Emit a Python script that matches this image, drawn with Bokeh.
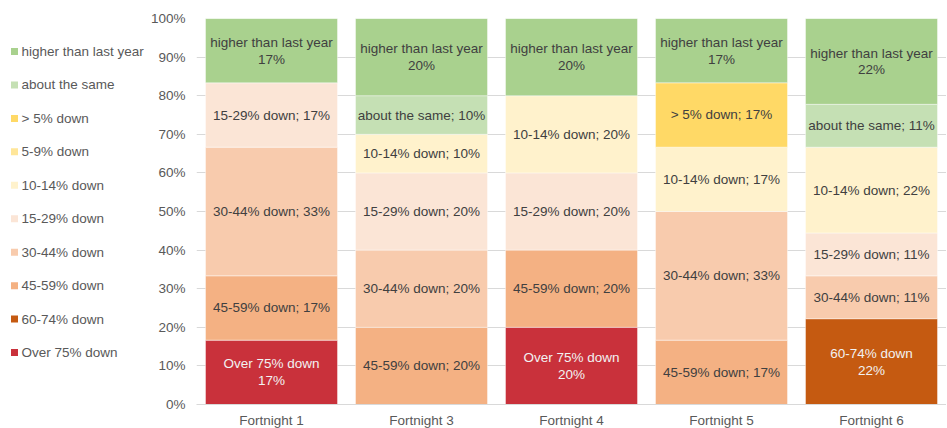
import numpy as np
from bokeh.plotting import figure
from bokeh.layouts import row
from bokeh.models import (ColumnDataSource, FixedTicker, PrintfTickFormatter,
                          FactorRange, Range1d)
from bokeh.core.properties import value
from bokeh.embed import file_html
from bokeh.resources import INLINE

fortnights = ["Fortnight 1", "Fortnight 3", "Fortnight 4", "Fortnight 5", "Fortnight 6"]

# series values (% of respondents), stacked bottom -> top
over75 = [16.67, 0, 20, 0, 0]
down60_74 = [0, 0, 0, 0, 22.22]
down45_59 = [16.67, 20, 20, 16.67, 0]
down30_44 = [33.33, 20, 0, 33.33, 11.11]
down15_29 = [16.66, 20, 20, 0, 11.11]
down10_14 = [0, 10, 20, 16.67, 22.22]
down5_9 = [0, 0, 0, 0, 0]
gt5_down = [0, 0, 0, 16.67, 0]
same = [0, 10, 0, 0, 11.11]
higher = [16.66, 20, 20, 16.66, 22.23]

names = ["Over 75% down", "60-74% down", "45-59% down", "30-44% down", "15-29% down",
         "10-14% down", "5-9% down", "> 5% down", "about the same", "higher than last year"]
series = [over75, down60_74, down45_59, down30_44, down15_29, down10_14, down5_9, gt5_down, same, higher]
colors = ["#C9313B", "#C55A11", "#F4B183", "#F8CBAD", "#FBE5D6",
          "#FFF2CC", "#FFE699", "#FFD966", "#C5E0B4", "#A9D18E"]
two_line = {"Over 75% down", "60-74% down", "higher than last year"}
white_text = {"Over 75% down", "60-74% down"}

FONT = "Liberation Sans"
TXT = "#404040"
GREY = "#595959"

# ---- main chart ----
p = figure(x_range=FactorRange(factors=fortnights), y_range=Range1d(0, 100),
           frame_width=750, frame_height=386, output_backend="svg", toolbar_location=None,
           min_border_top=18, min_border_right=0, min_border_left=0, min_border_bottom=24)
p.outline_line_color = None
p.xgrid.grid_line_color = None
p.ygrid.grid_line_color = "#d9d9d9"
p.ygrid.grid_line_width = 1

vals = np.array(series, dtype=float)
bottoms = np.vstack([np.zeros(vals.shape[1]), np.cumsum(vals, axis=0)[:-1]])

lx, ly, lt, lc = [], [], [], []
for i, name in enumerate(names):
    mask = vals[i] > 0
    if not mask.any():
        continue
    xs = [f for f, m in zip(fortnights, mask) if m]
    src = ColumnDataSource(dict(x=xs, bottom=list(bottoms[i][mask]),
                                top=list((bottoms[i] + vals[i])[mask])))
    p.vbar(x="x", bottom="bottom", top="top", width=0.88, source=src,
           fill_color=colors[i], line_color="white", line_width=0.6, line_alpha=0.7)
    for f, b, v in zip(fortnights, bottoms[i], vals[i]):
        if v <= 0:
            continue
        pct = f"{int(round(v))}%"
        lx.append(f)
        ly.append(b + v / 2)
        lt.append(f"{name}\n{pct}" if name in two_line else f"{name}; {pct}")
        lc.append("#F2F2F2" if name in white_text else TXT)

lsrc = ColumnDataSource(dict(x=lx, y=ly, text=lt, color=lc))
p.text(x="x", y="y", text="text", source=lsrc, text_align="center", text_baseline="middle",
       text_font=value(FONT), text_font_size="13.5px", text_color="color", text_line_height=1.12)

p.yaxis.ticker = FixedTicker(ticks=list(range(0, 101, 10)))
p.yaxis.formatter = PrintfTickFormatter(format="%d%%")
p.yaxis.axis_line_color = None
p.yaxis.major_tick_line_color = None
p.yaxis.minor_tick_line_color = None
p.yaxis.major_tick_out = 0
p.yaxis.major_tick_in = 0
p.yaxis.minor_tick_out = 0
p.yaxis.major_label_text_font = FONT
p.yaxis.major_label_text_font_size = "13.5px"
p.yaxis.major_label_text_color = GREY
p.yaxis.major_label_standoff = 11

p.xaxis.axis_line_color = "#d9d9d9"
p.xaxis.major_tick_line_color = None
p.xaxis.minor_tick_line_color = None
p.xaxis.major_tick_out = 0
p.xaxis.major_tick_in = 0
p.xaxis.minor_tick_out = 0
p.xaxis.major_label_text_font = FONT
p.xaxis.major_label_text_font_size = "13.5px"
p.xaxis.major_label_text_color = GREY
p.xaxis.major_label_standoff = 8

# ---- legend panel (one row per series, top = last series) ----
order = list(range(len(names) - 1, -1, -1))
leg_src = ColumnDataSource(dict(
    row=list(range(len(order))),
    label=[names[i] for i in order],
    color=[colors[i] for i in order],
))
lg = figure(frame_width=147, frame_height=386, x_range=Range1d(0, 147),
            y_range=Range1d(10.553, -0.987),
            output_backend="svg", toolbar_location=None,
            min_border_top=18, min_border_left=0, min_border_right=0, min_border_bottom=24)
lg.axis.visible = False
lg.grid.visible = False
lg.outline_line_color = None
lg.scatter(x=14, y="row", source=leg_src, marker="square", size=7,
           fill_color="color", line_color=None)
lg.text(x=21, y="row", text="label", source=leg_src, text_align="left", text_baseline="middle",
        text_font=value(FONT), text_font_size="13.5px", text_color=GREY)

layout = row(lg, p)
open("out.html", "w").write(file_html(layout, INLINE))
